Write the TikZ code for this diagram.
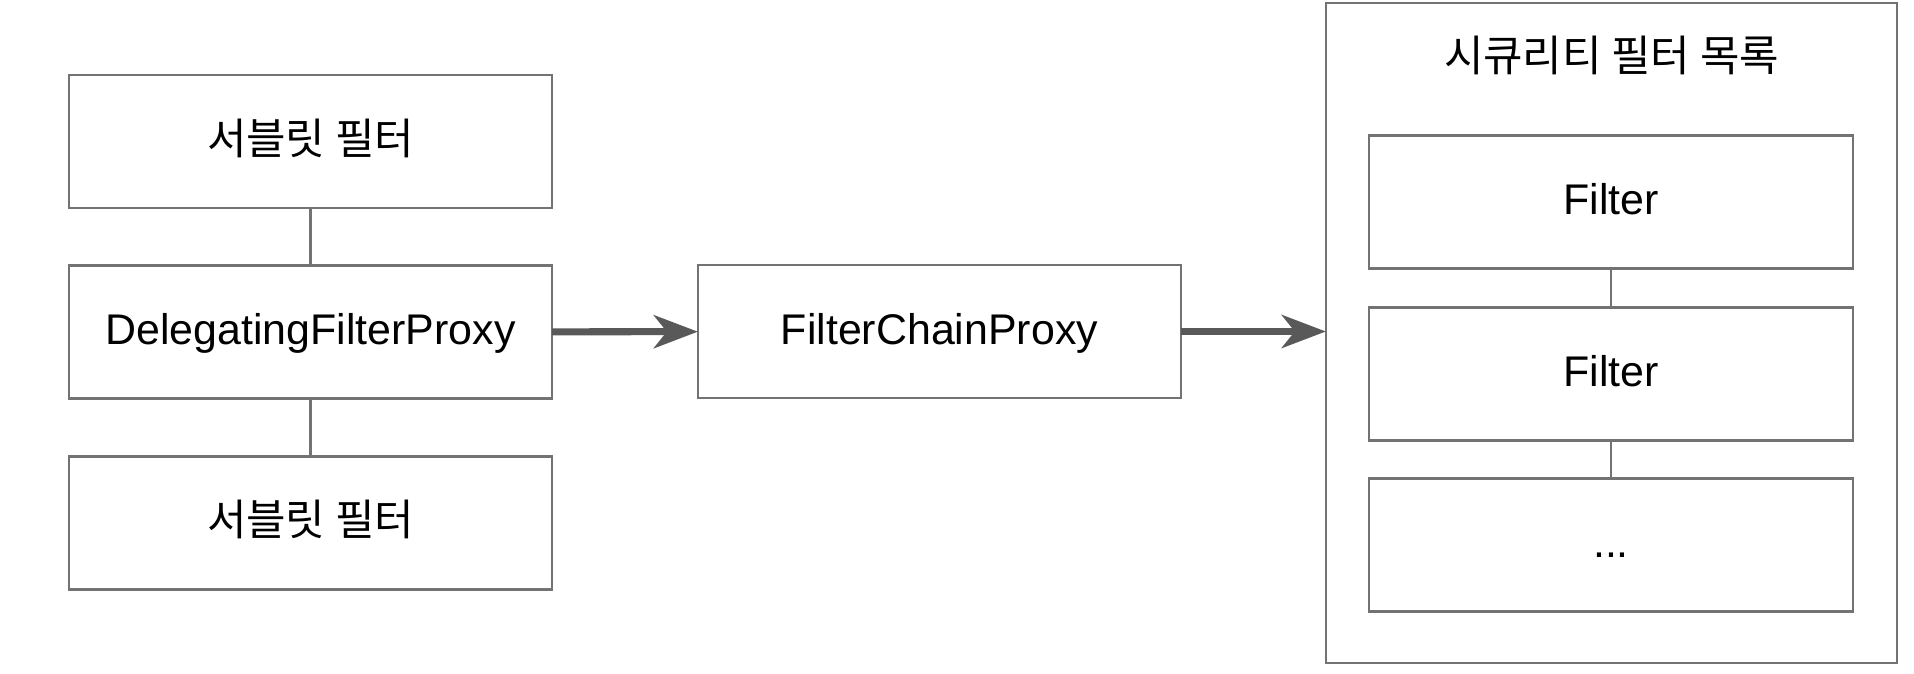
\documentclass[tikz,border=0pt]{standalone}
\usepackage{fontspec}
\setmainfont{Liberation Sans}
\newfontfamily\krfont{Noto Sans CJK KR}
\usepackage{tikz}
\usetikzlibrary{arrows.meta}

\definecolor{boxline}{HTML}{737373}
\definecolor{arrowgray}{HTML}{595959}

\begin{document}
\begin{tikzpicture}[
    x=0.01cm, y=-0.01cm,
    filterbox/.style={draw=boxline, line width=0.6pt, rectangle, minimum width=4.83cm,
        minimum height=1.33cm, inner sep=0pt, outer sep=0pt,
        text height=0.72em, text depth=0pt,
        font=\fontsize{12.2}{14}\selectfont},
    link/.style={draw=boxline, line width=0.6pt},
    flow/.style={draw=arrowgray, line width=2pt,
        -{Stealth[length=4.4mm, width=3.3mm, inset=1.3mm]}},
]

    \useasboundingbox (0,0) rectangle (1914,674);

    % Servlet filters around the proxy
    \node[filterbox] (servlet1) at (310.5,141.5) {\krfont 서블릿 필터};
    \node[filterbox] (delegating) at (310.5,332) {DelegatingFilterProxy};
    \node[filterbox] (servlet2) at (310.5,523) {\krfont 서블릿 필터};

    \draw[link] (servlet1) -- (delegating);
    \draw[link] (delegating) -- (servlet2);

    % Chain proxy
    \node[filterbox] (chainproxy) at (939.5,331.5) {FilterChainProxy};

    % Security filter list
    \node[draw=boxline, line width=0.6pt, minimum width=5.71cm, minimum height=6.6cm,
        inner sep=0pt, outer sep=0pt] (securitylist) at (1611.5,333) {};
    \node[font=\fontsize{12.2}{14}\selectfont] (listtitle) at (1611.5,55) {\krfont 시큐리티 필터 목록};

    \node[filterbox] (filter1) at (1611,202) {Filter};
    \node[filterbox] (filter2) at (1611,374) {Filter};
    \node[filterbox] (filter3) at (1611,545) {...};

    \draw[link] (filter1) -- (filter2);
    \draw[link] (filter2) -- (filter3);

    % Arrows
    \draw[flow] (delegating) -- (chainproxy);
    \draw[flow] (chainproxy.east) -- (chainproxy.east -| securitylist.west);

\end{tikzpicture}
\end{document}
